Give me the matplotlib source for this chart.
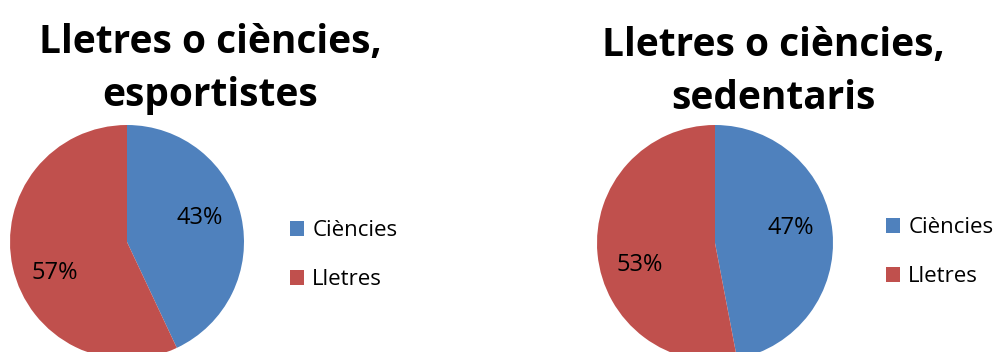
import numpy as np
import matplotlib
matplotlib.use("Agg")
import matplotlib.pyplot as plt

plt.rcParams['font.family'] = ['Open Sans', 'DejaVu Sans']

categories = ['Ciències', 'Lletres']
esportistes = [43, 57]
sedentaris = [47, 53]
colors = ['#4F81BD', '#C0504D']

W, H = 1000, 352
fig = plt.figure(figsize=(W / 100, H / 100), dpi=100)


def px_axes(cx, cy, r):
    # square axes centred on (cx, cy) in pixels measured from the top-left corner
    return fig.add_axes([(cx - r) / W, (H - cy - r) / H, 2 * r / W, 2 * r / H])


def draw_pie(ax, values, title, tx, ty, lx, ly):
    wedges, _, autotexts = ax.pie(values, colors=colors, startangle=90, counterclock=False,
                                  autopct='%1.0f%%', pctdistance=0.66,
                                  wedgeprops=dict(linewidth=0),
                                  textprops=dict(fontsize=17, color='black'))
    # labels sit a little anticlockwise of the wedge centre line
    for w, t in zip(wedges, autotexts):
        ang = np.deg2rad((w.theta1 + w.theta2) / 2 + 8)
        t.set_position((0.66 * np.cos(ang), 0.66 * np.sin(ang) - 0.03))
    ax.set_xlim(-1, 1)
    ax.set_ylim(-1, 1)
    ax.set_aspect('equal')
    ax.axis('off')
    fig.text(tx / W, 1 - ty / H, title, ha='center', va='center', fontsize=28,
             fontweight='bold', linespacing=1.45)
    fig.legend(wedges, categories, loc='center left', bbox_to_anchor=(lx / W, 1 - ly / H),
               frameon=False, fontsize=16, handlelength=0.65, handleheight=0.65,
               handletextpad=0.35, labelspacing=1.25, borderpad=0, borderaxespad=0)


ax1 = px_axes(127, 242, 117)
draw_pie(ax1, esportistes, 'Lletres o ciències,\nesportistes', 210, 69, 290, 255)

ax2 = px_axes(715, 243, 118)
draw_pie(ax2, sedentaris, 'Lletres o ciències,\nsedentaris', 773, 72, 886, 252)

fig.savefig('out.png', dpi=100)
